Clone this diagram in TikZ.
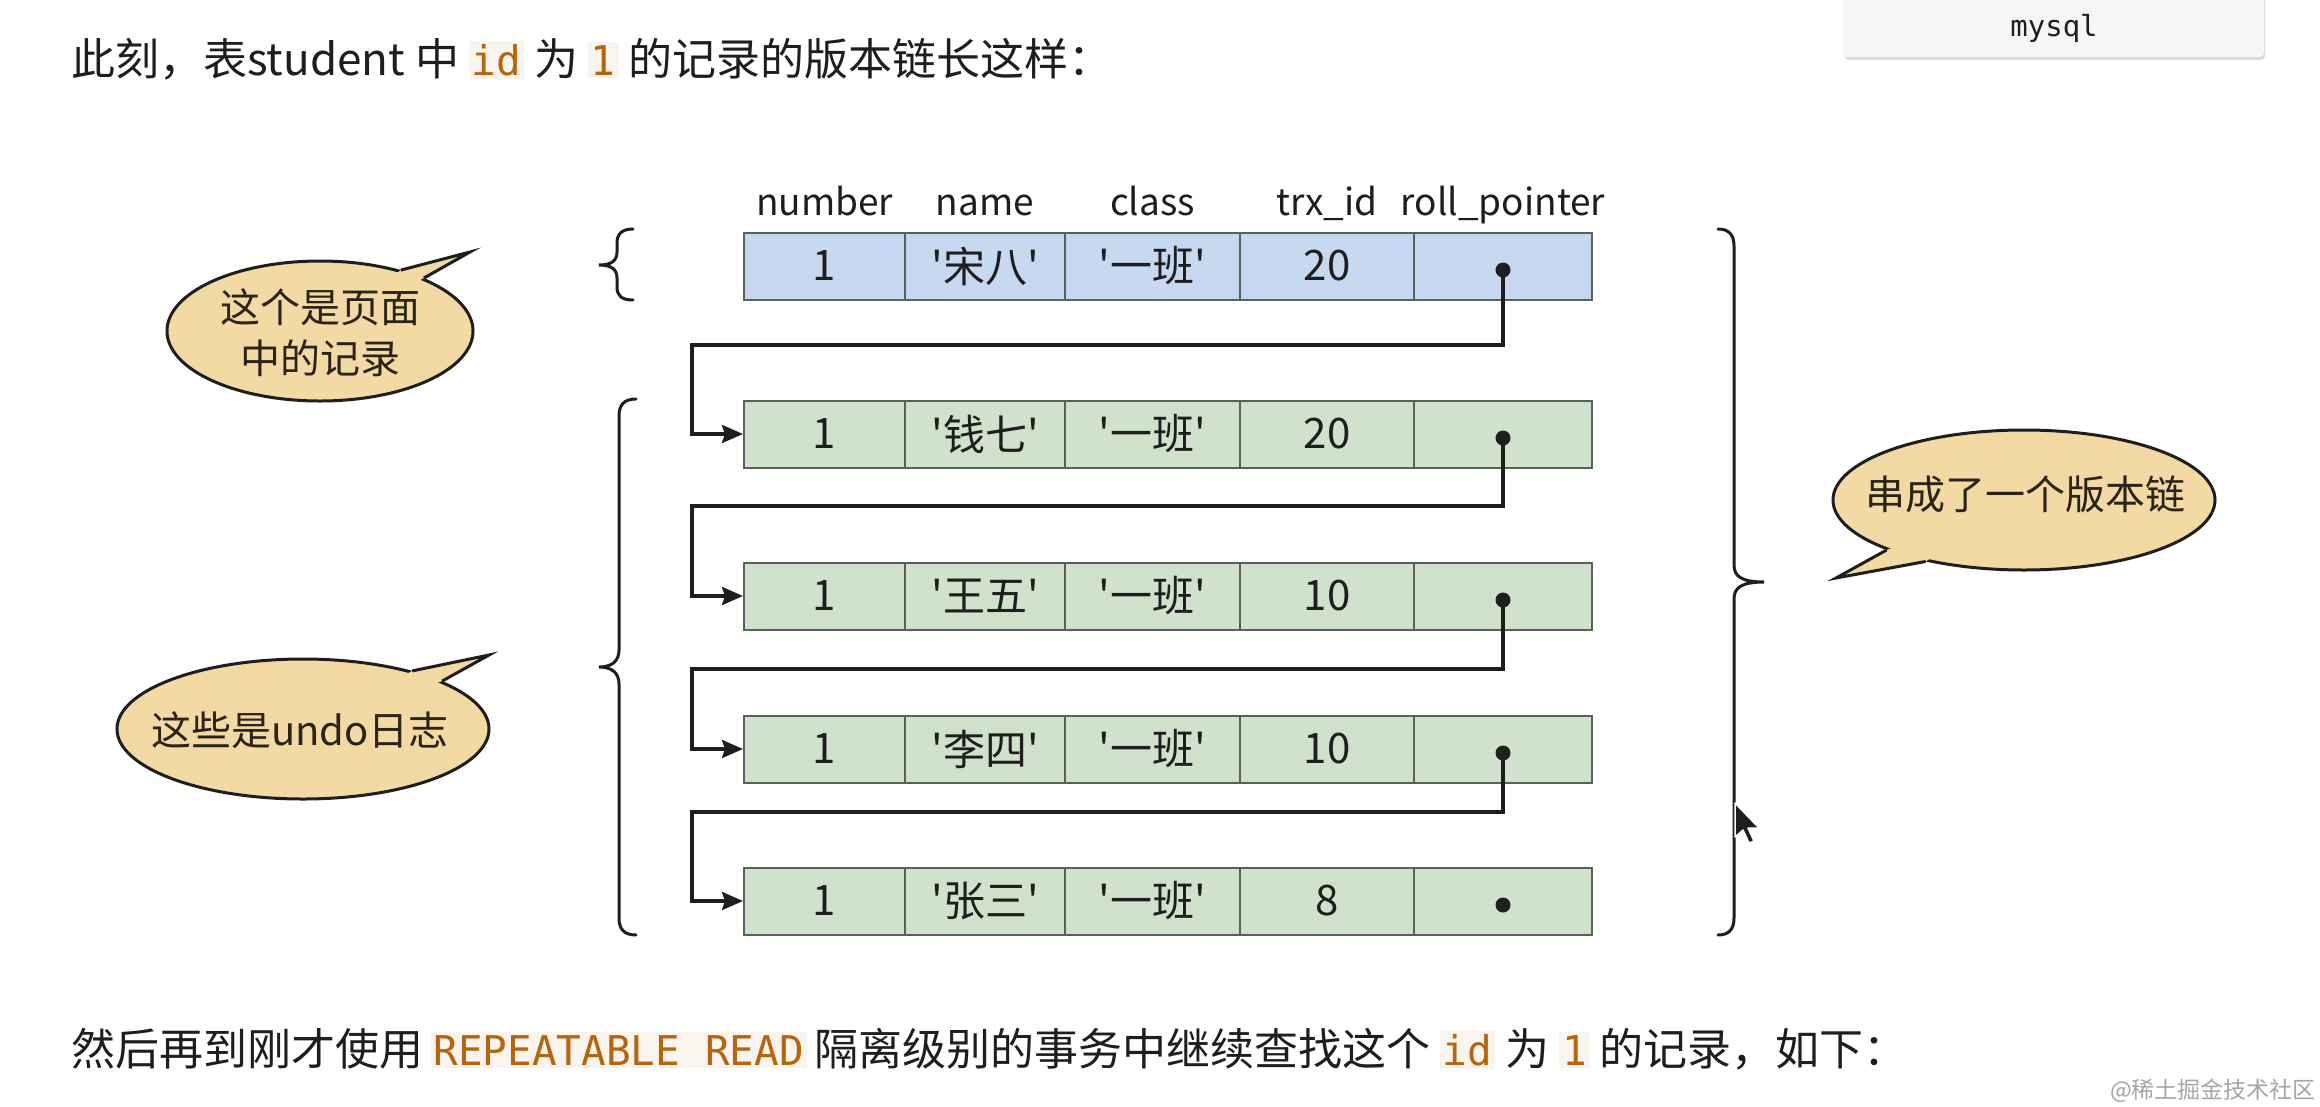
\documentclass[tikz,border=0pt]{standalone}
\usepackage{fontspec}
\setmainfont{Noto Sans CJK SC}
\newfontfamily\codefont{DejaVu Sans Mono}
\usetikzlibrary{arrows.meta,shapes.geometric,calc}
\definecolor{rowblue}{HTML}{C6D9F1}
\definecolor{rowgreen}{HTML}{D0E2CC}
\definecolor{bubblefill}{HTML}{F3D9A4}
\definecolor{codeorange}{HTML}{B5650D}
\definecolor{codebg}{HTML}{F9F4EE}
\definecolor{boxbg}{HTML}{F6F6F6}
\definecolor{ink}{HTML}{1E1E1E}
\definecolor{bubbleink}{HTML}{2A2418}
\definecolor{cellline}{HTML}{56625A}
\newcommand\inlinecode[1]{{\setlength{\fboxsep}{3pt}\colorbox{codebg}{\codefont\fontsize{41}{49}\selectfont\color{codeorange}#1}}}
\newcommand\q{\textquotesingle}
\begin{document}
\begin{tikzpicture}[x=1pt,y=-1pt,
  cell/.style={draw=cellline, line width=2pt, minimum height=67pt, inner sep=0pt,
    font=\fontsize{42}{50}\selectfont, text=ink, anchor=center},
  hdr/.style={font=\fontsize{37}{44}\selectfont, text=ink, inner sep=0pt, anchor=base},
  dotnode/.style={circle, fill=ink, inner sep=0pt, minimum size=15pt},
  link/.style={draw=ink, line width=3.5pt, line join=miter, -{Stealth[length=21pt,width=18pt,inset=3pt]}},
  bracepath/.style={draw=ink, line width=3pt, line cap=round},
  bubble/.style={ellipse, draw=ink, fill=bubblefill, line width=3pt, inner sep=0pt},
  bubbletext/.style={font=\fontsize{40}{51}\selectfont, text=bubbleink, align=center, inner sep=0pt},
  para/.style={anchor=west, font=\fontsize{44}{52}\selectfont, text=ink, inner sep=0pt}
]
\useasboundingbox (0,0) rectangle (2320,1106);
\fill[white] (0,0) rectangle (2320,1106);

% mysql tab
\fill[black!14, rounded corners=4pt] (1845,-10) rectangle (2265,60);
\fill[boxbg, rounded corners=4pt] (1843,-10) rectangle (2264,57);
\node[font=\codefont\fontsize{29}{34}\selectfont, text=ink] (mysql) at (2054,28) {mysql};

% paragraph texts
\node[para] (title) at (71,59) {此刻，表student 中 \inlinecode{id} 为 \inlinecode{1} 的记录的版本链长这样：};
\node[para] (bottom) at (71,1049) {然后再到刚才使用\,\inlinecode{REPEATABLE READ}\,隔离级别的事务中继续查找这个 \inlinecode{id} 为 \inlinecode{1} 的记录，如下：};
\node[anchor=east, font=\fontsize{23}{27}\selectfont, text=black!35, inner sep=0pt] (wm) at (2316,1091) {@稀土掘金技术社区};

% column headers
\node[hdr] (h1) at (824.5,215) {number};
\node[hdr] (h2) at (985,215) {name};
\node[hdr] (h3) at (1152.5,215) {class};
\node[hdr] (h4) at (1327,215) {trx\_id};
\node[hdr] (h5) at (1503,215) {roll\_pointer};

% rows
\foreach \r/\yy/\nm/\tr/\fc in {1/266/宋八/20/rowblue,2/434/钱七/20/rowgreen,3/596/王五/10/rowgreen,4/749/李四/10/rowgreen,5/901/张三/8/rowgreen}{
  \node[cell, fill=\fc, minimum width=161pt] (r\r-c1) at (824.5,\yy) {1};
  \node[cell, fill=\fc, minimum width=160pt] (r\r-c2) at (985,\yy) {\q{}\nm\q{}};
  \node[cell, fill=\fc, minimum width=175pt] (r\r-c3) at (1152.5,\yy) {\q{}一班\q{}};
  \node[cell, fill=\fc, minimum width=174pt] (r\r-c4) at (1327,\yy) {\tr};
  \node[cell, fill=\fc, minimum width=178pt] (r\r-c5) at (1503,\yy) {};
  \node[dotnode] (d\r) at ($(r\r-c5.center)+(0,4)$) {};
}

% bend points
\coordinate (k1) at (692,345);
\coordinate (k2) at (692,506);
\coordinate (k3) at (692,669);
\coordinate (k4) at (692,812);
\foreach \a/\b in {1/2,2/3,3/4,4/5}{
  \draw[link] (d\a.center) -- (d\a.center |- k\a) -- (k\a) -- (k\a |- r\b-c1.west) -- (r\b-c1.west);
}

% braces
\path[bracepath] (633,229) .. controls (622,229) and (617,234) .. (617,243) -- (617,252)
  .. controls (617,261) and (611,265) .. (599,265) .. controls (611,265) and (617,269) .. (617,278)
  -- (617,287) .. controls (617,296) and (622,300) .. (633,300);
\path[bracepath] (636,399) .. controls (624,399) and (619,405) .. (619,416) -- (619,650)
  .. controls (619,661) and (612,667) .. (599,667) .. controls (612,667) and (619,673) .. (619,684)
  -- (619,918) .. controls (619,929) and (624,935) .. (636,935);
\path[bracepath] (1718,229) .. controls (1729,229) and (1734,235) .. (1734,246) -- (1734,565)
  .. controls (1734,576) and (1741,582) .. (1764,582) .. controls (1741,582) and (1734,588) .. (1734,599)
  -- (1734,918) .. controls (1734,929) and (1729,935) .. (1718,935);

% bubble 1
\node[bubble, minimum width=306pt, minimum height=140pt] (bub1) at (320,331) {};
\coordinate (t1) at (470,252);
\fill[bubblefill] (bub1.37) -- (t1) -- (bub1.27) -- ($(bub1.27)!0.06!(bub1.center)$) -- ($(bub1.37)!0.06!(bub1.center)$) -- cycle;
\draw[draw=ink, line width=3pt, line join=miter] (bub1.37) -- (t1) -- (bub1.27);
\node[bubbletext] (bub1text) at (320,333) {这个是页面\\中的记录};

% bubble 2
\node[bubble, minimum width=372pt, minimum height=140pt] (bub2) at (303,729) {};
\coordinate (t2) at (489,655);
\fill[bubblefill] (bub2.28) -- (t2) -- (bub2.19) -- ($(bub2.19)!0.06!(bub2.center)$) -- ($(bub2.28)!0.06!(bub2.center)$) -- cycle;
\draw[draw=ink, line width=3pt, line join=miter] (bub2.28) -- (t2) -- (bub2.19);
\node[bubbletext] (bub2text) at (300,730) {这些是undo日志};

% bubble 3
\node[bubble, minimum width=382pt, minimum height=140pt] (bub3) at (2024,500) {};
\coordinate (t3) at (1836,578);
\fill[bubblefill] (bub3.200) -- (t3) -- (bub3.212) -- ($(bub3.212)!0.06!(bub3.center)$) -- ($(bub3.200)!0.06!(bub3.center)$) -- cycle;
\draw[draw=ink, line width=3pt, line join=miter] (bub3.200) -- (t3) -- (bub3.212);
\node[bubbletext] (bub3text) at (2025,494) {串成了一个版本链};

% mouse cursor
\fill[ink, draw=white, line width=1.5pt, line join=round] (1735,803) -- ++(0,34) -- ++(8,-7) -- ++(6,13) -- ++(5,-2) -- ++(-6,-13) -- ++(11,0) -- cycle;
\end{tikzpicture}
\end{document}
